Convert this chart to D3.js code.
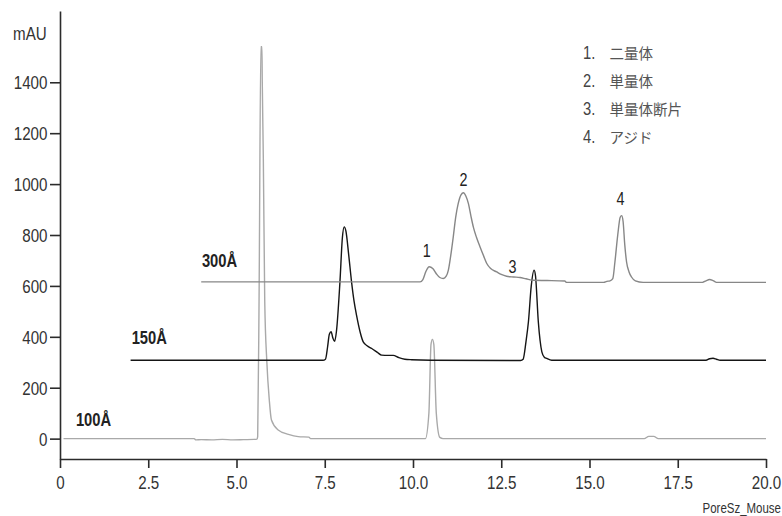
<!DOCTYPE html>
<html>
<head>
<meta charset="utf-8">
<script src="https://cdn.jsdelivr.net/npm/d3@7"></script>
<style>
  html, body { margin: 0; padding: 0; background: #fff; }
  svg { display: block; }
</style>
</head>
<body>
<svg id="chart" width="782" height="516"></svg>
<script>
// ---- data (time in min, signal in mAU) ----
const xTicks = [0, 2.5, 5, 7.5, 10, 12.5, 15, 17.5, 20];
const xTickLabels = ["0", "2.5", "5.0", "7.5", "10.0", "12.5", "15.0", "17.5", "20.0"];
const yTicks = [0, 200, 400, 600, 800, 1000, 1200, 1400];
const yTickLabels = ["0", "200", "400", "600", "800", "1000", "1200", "1400"];

const seriesNames = ["100Å", "150Å", "300Å"];

const trace100 = [
  [0.1, 0], [3.8, 0], [3.85, -5], [4.0, -4], [4.3, -5], [4.6, -3], [4.9, -5], [5.2, -4], [5.5, -3],
  [5.58, -2], [5.60, 8], [5.64, 560], [5.69, 1540], [5.72, 1540], [5.73, 1402], [5.76, 1100],
  [5.80, 540], [5.86, 300], [5.93, 150], [5.99, 73], [6.18, 34], [6.47, 17], [6.75, 8], [7.05, 6],
  [7.1, 0], [10.35, 0], [10.45, 100], [10.51, 370], [10.55, 390], [10.59, 370], [10.66, 100],
  [10.76, 5], [10.85, 0], [16.55, 0], [16.68, 9], [16.82, 9], [16.95, 0], [20, 0]
];

const trace150 = [
  [2.0, 308], [7.45, 308], [7.52, 312], [7.58, 360], [7.63, 410], [7.68, 420], [7.73, 395],
  [7.78, 382], [7.83, 420], [7.93, 615], [8.0, 790], [8.05, 832], [8.10, 815], [8.18, 720],
  [8.26, 615], [8.33, 540], [8.40, 485], [8.50, 420], [8.59, 380], [8.70, 365], [8.83, 354],
  [9.0, 338], [9.11, 328], [9.3, 327], [9.44, 327], [9.6, 318], [9.77, 312], [9.96, 310],
  [10.5, 308], [13.05, 307], [13.12, 312], [13.2, 380], [13.27, 459], [13.35, 600], [13.43, 662],
  [13.47, 640], [13.55, 459], [13.65, 341], [13.72, 320], [13.79, 315], [13.93, 308],
  [18.3, 308], [18.4, 314], [18.5, 316], [18.6, 312], [18.7, 308], [20, 308]
];

const trace300 = [
  [4.0, 616], [10.2, 616], [10.28, 625], [10.36, 655], [10.46, 675], [10.56, 668], [10.66, 648],
  [10.76, 633], [10.86, 629], [10.94, 638], [11.0, 661], [11.07, 720], [11.14, 792], [11.21, 870],
  [11.28, 923], [11.36, 958], [11.43, 966], [11.50, 952], [11.57, 923], [11.64, 875], [11.71, 831],
  [11.80, 790], [11.90, 753], [12.0, 718], [12.09, 688], [12.2, 668], [12.37, 655], [12.5, 645],
  [12.65, 638], [12.85, 635], [13.03, 633], [13.2, 628], [13.41, 622], [13.8, 621], [14.3, 619],
  [14.35, 614], [15.4, 614], [15.49, 618], [15.58, 620], [15.66, 629], [15.72, 694], [15.80, 800],
  [15.87, 870], [15.91, 876], [15.95, 855], [16.0, 760], [16.05, 694], [16.12, 655], [16.19, 635],
  [16.3, 620], [16.52, 614], [18.2, 614], [18.3, 620], [18.4, 625], [18.5, 621], [18.6, 614], [20, 614]
];

const seriesLabelPos = [[0.45, 51], [2.03, 370], [4.02, 676]];

const peakLabels = ["1", "2", "3", "4"];
const peakLabelPos = [[10.39, 713], [11.43, 992], [12.82, 650], [15.88, 918]];

const legendNums = ["1.", "2.", "3.", "4."];
const legendNames = ["二量体", "単量体", "単量体断片", "アジド"];

// ---- chart ----
const NARROW = 0.82;
const FONT = "'Liberation Sans', Arial, sans-serif";
const svg = d3.select("#chart");
const x = d3.scaleLinear().domain([0, 20]).range([60, 766]);
const y = d3.scaleLinear().domain([-80, 1680]).range([459, 11]);

const axisColor = "#2b2b2b";

// narrow text helper: places text at (px,py) with horizontal compression
function narrowText(parent, px, py, str, size, opts = {}) {
  return parent.append("text")
    .attr("transform", `translate(${px},${py}) scale(${NARROW},1)`)
    .attr("font-family", FONT)
    .attr("font-size", size)
    .attr("font-weight", opts.weight || "normal")
    .attr("text-anchor", opts.anchor || "start")
    .attr("fill", opts.fill || "#333")
    .text(str);
}

// y axis
const yAxis = svg.append("g")
  .attr("transform", "translate(60,0)")
  .call(d3.axisLeft(y).tickValues(yTicks).tickSize(10).tickSizeOuter(0)
    .tickFormat((d, i) => yTickLabels[i]));
// x axis
const xAxis = svg.append("g")
  .attr("transform", "translate(0,459)")
  .call(d3.axisBottom(x).tickValues(xTicks).tickSize(9).tickSizeOuter(0)
    .tickFormat((d, i) => xTickLabels[i]));

[yAxis, xAxis].forEach(g => {
  g.select(".domain").attr("stroke", axisColor).attr("stroke-width", 1.6);
  g.selectAll(".tick line").attr("stroke", axisColor).attr("stroke-width", 1.6);
  g.selectAll(".tick text").attr("font-family", FONT).attr("font-size", 18.5).attr("fill", "#333")
    .attr("x", 0).attr("y", 0).attr("dy", null);
});
yAxis.selectAll(".tick text").attr("transform", `translate(-12.5,6.5) scale(${NARROW},1)`);
xAxis.selectAll(".tick text").attr("transform", `translate(0,30) scale(${NARROW},1)`);

// mAU
narrowText(svg, 13, 39.5, "mAU", 18.5);

// traces
const line = d3.line().x(d => x(d[0])).y(d => y(d[1])).curve(d3.curveMonotoneX);
const traces = [
  { data: trace100, color: "#a9a9a9" },
  { data: trace150, color: "#151515" },
  { data: trace300, color: "#878787" }
];
svg.append("g").selectAll("path").data(traces).join("path")
  .attr("d", d => line(d.data))
  .attr("fill", "none")
  .attr("stroke", d => d.color)
  .attr("stroke-width", 1.4)
  .attr("stroke-linejoin", "round");

// series labels
const sl = svg.append("g");
seriesNames.forEach((s, i) => {
  narrowText(sl, x(seriesLabelPos[i][0]), y(seriesLabelPos[i][1]), s, 18, { weight: "bold", fill: "#222" });
});

// peak labels
const pl = svg.append("g");
peakLabels.forEach((s, i) => {
  narrowText(pl, x(peakLabelPos[i][0]), y(peakLabelPos[i][1]), s, 17.5, { anchor: "middle", fill: "#222" });
});

// legend
const lg = svg.append("g").attr("transform", "translate(583,59)");
legendNums.forEach((n, i) => {
  narrowText(lg, 0, i * 28, n, 18, { fill: "#444" });
  lg.append("text").attr("x", 26.5).attr("y", i * 28 - 0.5)
    .attr("font-family", "'Noto Sans CJK JP', 'Noto Sans CJK SC', sans-serif")
    .attr("font-size", 14.5).attr("fill", "#555").text(legendNames[i]);
});

// footer id
narrowText(svg, 781, 513, "PoreSz_Mouse", 14, { anchor: "end", fill: "#333" });
</script>
</body>
</html>
